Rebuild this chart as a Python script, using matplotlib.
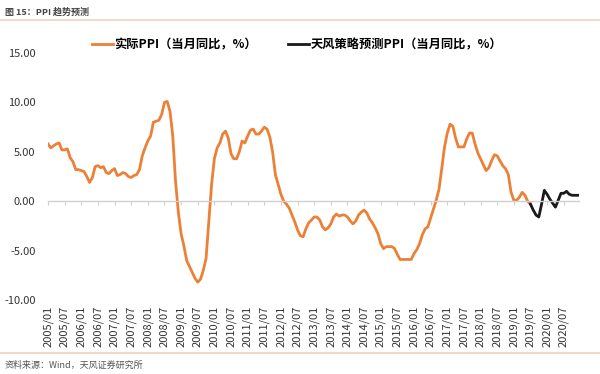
import numpy as np
import matplotlib
matplotlib.use('Agg')
import matplotlib.pyplot as plt
from matplotlib.lines import Line2D

plt.rcParams['font.family'] = ['Noto Sans CJK SC', 'DejaVu Sans']

# monthly PPI yoy, 2005/01 .. 2019/07
actual = [5.8, 5.4, 5.6, 5.8, 5.9, 5.2, 5.2, 5.3, 4.4, 4.0, 3.2, 3.2,
          3.1, 3.0, 2.5, 1.9, 2.4, 3.5, 3.6, 3.4, 3.5, 2.9, 2.8, 3.1,
          3.3, 2.6, 2.7, 2.9, 2.8, 2.5, 2.4, 2.6, 2.7, 3.2, 4.6, 5.4,
          6.1, 6.6, 8.0, 8.1, 8.2, 8.8, 10.0, 10.1, 9.1, 6.6, 2.0, -1.1,
          -3.3, -4.5, -6.0, -6.6, -7.2, -7.8, -8.2, -7.9, -7.0, -5.8, -2.1, 1.7,
          4.3, 5.4, 5.9, 6.8, 7.1, 6.4, 4.8, 4.3, 4.3, 5.0, 6.1, 5.9,
          6.6, 7.2, 7.3, 6.8, 6.8, 7.1, 7.5, 7.3, 6.5, 5.0, 2.7, 1.7,
          0.7, 0.0, -0.3, -0.7, -1.4, -2.1, -2.9, -3.5, -3.6, -2.8, -2.2, -1.9,
          -1.6, -1.6, -1.9, -2.6, -2.9, -2.7, -2.3, -1.6, -1.3, -1.5, -1.4, -1.4,
          -1.6, -2.0, -2.3, -2.0, -1.4, -1.1, -0.9, -1.2, -1.8, -2.2, -2.7, -3.3,
          -4.3, -4.8, -4.6, -4.6, -4.6, -4.8, -5.4, -5.9, -5.9, -5.9, -5.9, -5.9,
          -5.3, -4.9, -4.3, -3.4, -2.8, -2.6, -1.7, -0.8, 0.1, 1.2, 3.3, 5.5,
          6.9, 7.8, 7.6, 6.4, 5.5, 5.5, 5.5, 6.3, 6.9, 6.9, 5.8, 4.9,
          4.3, 3.7, 3.1, 3.4, 4.1, 4.7, 4.6, 4.1, 3.6, 3.3, 2.7, 0.9,
          0.1, 0.1, 0.4, 0.9, 0.6, 0.0, -0.3]
# forecast, 2019/07 .. 2020/12
forecast = [-0.3, -0.9, -1.4, -1.6, -0.3, 1.1, 0.7, 0.2, -0.2, -0.6, 0.1, 0.8,
            0.8, 1.0, 0.7, 0.6, 0.6, 0.6]

n_months = 192
tick_labels = ['%d/%02d' % (2005 + i // 2, 1 if i % 2 == 0 else 7) for i in range(32)]
y_ticks = [-10, -5, 0, 5, 10, 15]

x_act = np.arange(len(actual))
x_fc = np.arange(len(actual) - 1, len(actual) - 1 + len(forecast))

fig = plt.figure(figsize=(6.0, 3.74), dpi=100)
ax = fig.add_axes([0.08, 0.198, 0.885, 0.66])

orange = '#EC8036'
ax.plot(x_act, actual, color=orange, lw=2.0, solid_joinstyle='round')
ax.plot(x_fc, forecast, color='#1a1a1a', lw=2.0, solid_joinstyle='round')

ax.set_xlim(0, n_months - 0.5)
ax.set_ylim(-10, 15)
ax.set_yticks(y_ticks)
ax.set_yticklabels(['%.2f' % v for v in y_ticks], fontsize=8, color='#333333')
ax.tick_params(axis='y', length=0, pad=9)

for s in ['top', 'right', 'left']:
    ax.spines[s].set_visible(False)
ax.spines['bottom'].set_position(('data', 0))
ax.spines['bottom'].set_color('#d0d0d0')
ax.spines['bottom'].set_linewidth(1.0)
ax.set_xticks(np.arange(0, n_months, 6))
ax.tick_params(axis='x', direction='out', length=3, color='#d0d0d0', labelbottom=False)

sec = ax.secondary_xaxis('bottom')
sec.set_xticks(np.arange(0, n_months, 6))
sec.set_xticklabels(tick_labels, rotation=90, fontsize=8, color='#333333')
sec.tick_params(length=0, pad=4)
sec.spines['bottom'].set_visible(False)

handles = [Line2D([], [], color=orange, lw=2.0), Line2D([], [], color='#1a1a1a', lw=2.0)]
fig.legend(handles, ['实际PPI（当月同比，%）', '天风策略预测PPI（当月同比，%）'],
           loc='center', bbox_to_anchor=(0.495, 0.88), ncol=2, frameon=False,
           handlelength=1.7, handletextpad=0.1, columnspacing=2.6,
           prop={'size': 8.8, 'weight': 'bold'})

fig.text(0.008, 0.968, '图 15：PPI 趋势预测', fontsize=6.5, color='#444444',
         weight='bold', va='center')
fig.add_artist(Line2D([0, 1], [0.947, 0.947], color='#f0d3bb', lw=1.2))
fig.add_artist(Line2D([0, 1], [0.056, 0.056], color='#eedcc8', lw=1.5))
fig.text(0.008, 0.024, '资料来源：Wind，天风证券研究所', fontsize=6.5, color='#555555', va='center')

fig.savefig('out.png', dpi=100)
